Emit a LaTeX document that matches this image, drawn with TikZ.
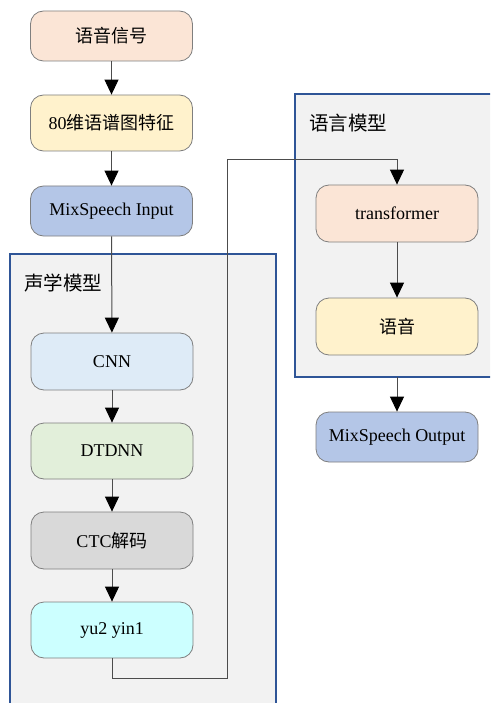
\documentclass[tikz,border=0pt]{standalone}
\usepackage{fontspec}
\setmainfont{Liberation Serif}
\newfontfamily\cjk{Noto Sans CJK SC}
\usetikzlibrary{arrows.meta}
\definecolor{cPeach}{HTML}{FBE5D6}
\definecolor{cYellow}{HTML}{FFF2CC}
\definecolor{cBlue}{HTML}{B4C6E7}
\definecolor{cLBlue}{HTML}{DEEBF7}
\definecolor{cGreen}{HTML}{E2EFDA}
\definecolor{cGray}{HTML}{D9D9D9}
\definecolor{cCyan}{HTML}{CCFFFF}
\definecolor{cCont}{HTML}{F2F2F2}
\definecolor{cBorder}{HTML}{2F5597}
\definecolor{cEdge}{HTML}{7F7F7F}
\begin{document}
\begin{tikzpicture}[x=1pt,y=-1pt,
  box/.style={draw=cEdge, line width=0.8pt, rounded corners=13pt, minimum width=162pt,
    minimum height=56pt, inner sep=0pt, font=\fontsize{18}{21}\selectfont},
  cont/.style={draw=cBorder, fill=cCont, line width=1.5pt},
  lbl/.style={anchor=west, inner sep=0pt, font=\fontsize{19.5}{21}\selectfont\cjk},
  conn/.style={draw=black!70, line width=1pt, -{Triangle[width=14pt,length=15pt,fill=black,color=black]}},
  plain/.style={draw=black!70, line width=1pt}]
\useasboundingbox (0,0) rectangle (490,703);
\clip (0,0) rectangle (490,703);
\fill[white] (0,0) rectangle (490,703);
% containers
\draw[cont] (10,254) rectangle (276,720);
\draw[cont] (295,94) rectangle (500,377);
\node[lbl] (lac) at (24,283) {声学模型};
\node[lbl] (llm) at (309,123) {语言模型};
% nodes
\node[box, fill=cPeach, minimum height=50pt] (sig) at (111.5,36) {\cjk 语音信号};
\node[box, fill=cYellow] (feat) at (111.5,123) {80{\cjk 维语谱图特征}};
\node[box, fill=cBlue, minimum height=50pt] (inp) at (111.5,211) {MixSpeech Input};
\node[box, fill=cLBlue, minimum height=57pt] (cnn) at (112,361.5) {CNN};
\node[box, fill=cGreen] (dtd) at (112,451) {DTDNN};
\node[box, fill=cGray, minimum height=57pt] (ctc) at (112,540.5) {CTC{\cjk 解码}};
\node[box, fill=cCyan] (yu) at (112,630) {yu2 yin1};
\node[box, fill=cPeach, minimum height=57pt] (tr) at (397,213.5) {transformer};
\node[box, fill=cYellow, minimum height=57pt] (yy) at (397,326.5) {\cjk 语音};
\node[box, fill=cBlue, minimum height=50pt] (out) at (397,437) {MixSpeech Output};
% connectors
\draw[conn] (sig) -- (feat);
\draw[conn] (feat) -- (inp);
\draw[conn] (inp) -- (cnn);
\draw[conn] (cnn) -- (dtd);
\draw[conn] (dtd) -- (ctc);
\draw[conn] (ctc) -- (yu);
\coordinate (c1) at (227,678);
\coordinate (c2) at (227,160);
\draw[conn] (yu.south) |- (c1) -- (c2) -| (tr.north);
\draw[conn] (tr) -- (yy);
\coordinate (lmb) at (397,377);
\draw[conn] (lmb) -- (out);
\end{tikzpicture}
\end{document}
